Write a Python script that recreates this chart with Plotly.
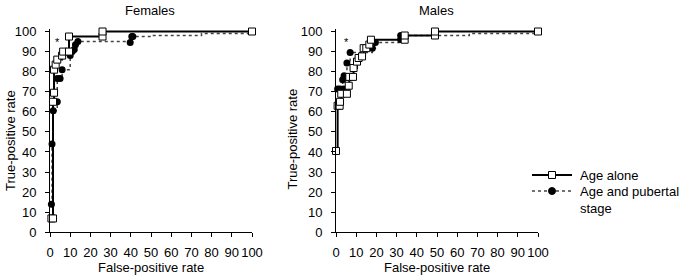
import plotly.graph_objects as go

# Females
f_alone_x = [0.7, 1.5, 1.5, 2, 2, 2.8, 3.6, 6, 6.5, 9.4, 9.4, 26, 26, 100]
f_alone_y = [6.9, 6.9, 65, 69.5, 81, 83.5, 86, 88, 90, 90, 97.5, 97.5, 100, 100]
f_pub_x = [0.7, 1, 1.6, 3.6, 3.6, 5, 6, 10, 11, 12, 12.6, 13.8, 39.7, 40.5, 41, 50, 75, 100]
f_pub_y = [14, 44, 60.5, 65, 76.6, 76.6, 81, 88, 90, 91, 93.4, 95, 95, 97.5, 97.5, 98, 99, 100]
f_pub_marker_x = [0.7, 1, 1.6, 3.6, 3.6, 5, 6, 10, 11, 12, 12.6, 13.8, 39.7, 40.5, 41]
f_pub_marker_y = [14, 44, 60.5, 65, 76.6, 76.6, 81, 88, 90, 91, 93.4, 95, 94.5, 97.5, 97.5]

# Males
m_alone_x = [0, 0.8, 1.8, 2, 2.6, 5.4, 6.3, 6.6, 8.4, 8.7, 10.4, 11.2, 12.9, 13.7, 15, 16.5, 17.3, 34, 34, 49, 49, 100]
m_alone_y = [40.5, 63, 63, 65, 69, 69, 73, 77.4, 77.4, 81.8, 85, 86.8, 87.6, 91.7, 91.7, 93.5, 95.9, 95.9, 98, 98, 100, 100]
m_pub_x = [0.8, 2, 3.8, 3.3, 4, 5.4, 7, 18, 19.5, 32, 32, 49, 66, 100]
m_pub_y = [71.4, 71.4, 71.4, 76, 78, 84.3, 89.6, 91.7, 94.5, 96, 98, 98, 99, 100]
m_pub_marker_x = [0.8, 2, 3.8, 3.3, 4, 5.4, 7, 18, 19.5, 32, 32]
m_pub_marker_y = [71.4, 71.4, 71.4, 76, 78, 84.3, 89.6, 91.7, 94.5, 96, 98]

ticks = list(range(0, 101, 10))
panel_titles = ["Females", "Males"]
x_title = "False-positive rate"
y_title = "True-positive rate"
legend_names = ["Age alone", "Age and pubertal<br>stage"]

FONT = "Liberation Sans, Arial, sans-serif"
W, H = 685, 276
DOT_COLOR = "#444"
fig = go.Figure()

def add_panel(xa, ya, ax_x, ax_y, px_, py_, pmx, pmy):
    fig.add_trace(go.Scatter(x=px_, y=py_, mode="lines", line=dict(color=DOT_COLOR, width=1.5, dash="dot", shape="hv"),
                             xaxis=xa, yaxis=ya, showlegend=False, cliponaxis=False, hoverinfo="skip"))
    fig.add_trace(go.Scatter(x=pmx, y=pmy, mode="markers", marker=dict(color="black", size=7, symbol="circle"),
                             xaxis=xa, yaxis=ya, showlegend=False, cliponaxis=False))
    fig.add_trace(go.Scatter(x=ax_x, y=ax_y, mode="lines+markers", line=dict(color="black", width=2, shape="hv"),
                             marker=dict(symbol="square", size=7, color="white", line=dict(color="black", width=1)),
                             xaxis=xa, yaxis=ya, showlegend=False, cliponaxis=False))

add_panel("x", "y", f_alone_x, f_alone_y, f_pub_x, f_pub_y, f_pub_marker_x, f_pub_marker_y)
add_panel("x2", "y2", m_alone_x, m_alone_y, m_pub_x, m_pub_y, m_pub_marker_x, m_pub_marker_y)

axis_x = dict(tickvals=ticks, ticks="outside", ticklen=4, tickcolor="black",
              showline=True, linecolor="black", linewidth=1, showgrid=False, zeroline=False,
              automargin=False, ticklabelstandoff=4,
              tickfont=dict(size=13, color="black", family=FONT), fixedrange=True)
axis_y = dict(axis_x, ticklabelstandoff=6)

def px(xp):
    return xp / W

def py(yp):
    return 1 - yp / H

Y0, Y100 = 232.3, 31.5
unit = (Y0 - Y100) / 100.0
ytop = Y100 - unit * 1.0  # range extends to 101 so the 100-line is not clipped
ydom = [py(Y0), py(ytop)]

shapes = [
    dict(type="line", xref="paper", yref="paper", x0=px(532), x1=px(572), y0=py(175), y1=py(175),
         line=dict(color="black", width=2)),
    dict(type="rect", xref="paper", yref="paper", x0=px(548.5), x1=px(555.5), y0=py(178.5), y1=py(171.5),
         line=dict(color="black", width=1), fillcolor="white"),
    dict(type="line", xref="paper", yref="paper", x0=px(532), x1=px(572), y0=py(191), y1=py(191),
         line=dict(color=DOT_COLOR, width=1.5, dash="dot")),
    dict(type="circle", xref="paper", yref="paper", x0=px(548.5), x1=px(555.5), y0=py(194.5), y1=py(187.5),
         line=dict(color="black", width=1), fillcolor="black"),
]

def ann(text, x, y, size=13, xanchor="center", yanchor="middle", angle=0):
    return dict(text=text, x=px(x), y=py(y), xref="paper", yref="paper", xanchor=xanchor, yanchor=yanchor,
                showarrow=False, font=dict(size=size), align="left", textangle=angle, borderpad=0)

fig.update_layout(
    width=W, height=H,
    margin=dict(l=0, r=0, t=0, b=0),
    paper_bgcolor="white", plot_bgcolor="white",
    font=dict(family=FONT, size=13, color="black"),
    showlegend=False,
    xaxis=dict(domain=[px(50), px(252)], range=[0, 100], anchor="y", **axis_x),
    yaxis=dict(domain=ydom, range=[0, 101], anchor="x", **axis_y),
    xaxis2=dict(domain=[px(336), px(538)], range=[0, 100], anchor="y2", **axis_x),
    yaxis2=dict(domain=ydom, range=[0, 101], anchor="x2", **axis_y),
    shapes=shapes,
    annotations=[
        ann(panel_titles[0], 150, 10),
        ann(panel_titles[1], 436, 10),
        ann(x_title, 151, 267.5),
        ann(x_title, 437, 267.5),
        ann(y_title, 10, 141, angle=-90),
        ann(y_title, 291.5, 139, angle=-90),
        ann(legend_names[0], 579, 175, xanchor="left"),
        ann(legend_names[1], 579, 183, xanchor="left", yanchor="top"),
        dict(text="*", x=3.9, y=95, xref="x", yref="y", showarrow=False, font=dict(size=11)),
        dict(text="*", x=5.4, y=95, xref="x2", yref="y2", showarrow=False, font=dict(size=11)),
    ],
)

fig.write_html("out.html", config={"displayModeBar": False},
               post_script="document.body.style.margin='0';")
